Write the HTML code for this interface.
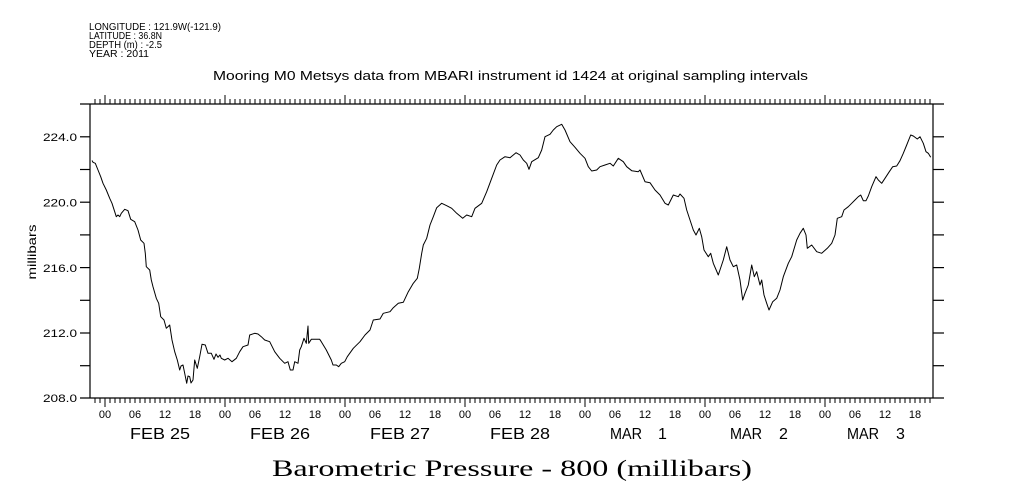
<!DOCTYPE html>
<html>
<head>
<meta charset="utf-8">
<style>
  html, body { margin: 0; padding: 0; background: #fff; }
  svg { display: block; }
  text { font-family: "Liberation Sans", sans-serif; fill: #000; }
</style>
</head>
<body>
<svg width="1009" height="504" viewBox="0 0 1009 504" xmlns="http://www.w3.org/2000/svg">
  <rect width="1009" height="504" fill="#fff"/>

  <!-- header info -->
  <text x="89" y="30" font-size="10" textLength="132" lengthAdjust="spacingAndGlyphs">LONGITUDE : 121.9W(-121.9)</text>
  <text x="89" y="39" font-size="10" textLength="73" lengthAdjust="spacingAndGlyphs">LATITUDE : 36.8N</text>
  <text x="89" y="48" font-size="10" textLength="73" lengthAdjust="spacingAndGlyphs">DEPTH (m) : -2.5</text>
  <text x="89" y="57" font-size="10" textLength="60" lengthAdjust="spacingAndGlyphs">YEAR : 2011</text>

  <!-- title -->
  <text x="213" y="80" font-size="13" textLength="595" lengthAdjust="spacingAndGlyphs">Mooring M0 Metsys data from MBARI instrument id 1424 at original sampling intervals</text>

  <!-- frame -->
  <g stroke="#000" stroke-width="1.2" fill="none">
    <line x1="90" y1="104" x2="90" y2="398"/>
    <line x1="933" y1="104" x2="933" y2="398"/>
    <line x1="80" y1="104" x2="944" y2="104"/>
    <line x1="80" y1="398" x2="944" y2="398"/>
  </g>

  <!-- y ticks (every 2 mb) -->
  <g stroke="#000" stroke-width="1.2">
    <line x1="80" y1="136.8" x2="90" y2="136.8"/>
    <line x1="80" y1="169.5" x2="90" y2="169.5"/>
    <line x1="80" y1="202.2" x2="90" y2="202.2"/>
    <line x1="80" y1="234.9" x2="90" y2="234.9"/>
    <line x1="80" y1="267.6" x2="90" y2="267.6"/>
    <line x1="80" y1="300.3" x2="90" y2="300.3"/>
    <line x1="80" y1="333" x2="90" y2="333"/>
    <line x1="80" y1="365.7" x2="90" y2="365.7"/>
    <line x1="933" y1="136.8" x2="944" y2="136.8"/>
    <line x1="933" y1="169.5" x2="944" y2="169.5"/>
    <line x1="933" y1="202.2" x2="944" y2="202.2"/>
    <line x1="933" y1="234.9" x2="944" y2="234.9"/>
    <line x1="933" y1="267.6" x2="944" y2="267.6"/>
    <line x1="933" y1="300.3" x2="944" y2="300.3"/>
    <line x1="933" y1="333" x2="944" y2="333"/>
    <line x1="933" y1="365.7" x2="944" y2="365.7"/>
  </g>

  <!-- y labels -->
  <g font-size="11" text-anchor="end">
    <text x="77" y="141" textLength="34" lengthAdjust="spacingAndGlyphs">224.0</text>
    <text x="77" y="206.4" textLength="34" lengthAdjust="spacingAndGlyphs">220.0</text>
    <text x="77" y="271.8" textLength="34" lengthAdjust="spacingAndGlyphs">216.0</text>
    <text x="77" y="337.2" textLength="34" lengthAdjust="spacingAndGlyphs">212.0</text>
    <text x="77" y="402.2" textLength="34" lengthAdjust="spacingAndGlyphs">208.0</text>
  </g>
  <text transform="translate(36,252) rotate(-90)" font-size="12" text-anchor="middle" textLength="55" lengthAdjust="spacingAndGlyphs">millibars</text>

  <!-- x ticks: hourly minor (5px), daily major at 00 -->
  <path stroke="#000" stroke-width="1" fill="none" d="
M95,104v-5 M100,104v-5 M110,104v-5 M115,104v-5 M120,104v-5 M125,104v-5 M130,104v-5 M135,104v-5 M140,104v-5 M145,104v-5 M150,104v-5 M155,104v-5 M160,104v-5 M165,104v-5 M170,104v-5 M175,104v-5 M180,104v-5 M185,104v-5 M190,104v-5 M195,104v-5 M200,104v-5 M205,104v-5 M210,104v-5 M215,104v-5 M220,104v-5
M230,104v-5 M235,104v-5 M240,104v-5 M245,104v-5 M250,104v-5 M255,104v-5 M260,104v-5 M265,104v-5 M270,104v-5 M275,104v-5 M280,104v-5 M285,104v-5 M290,104v-5 M295,104v-5 M300,104v-5 M305,104v-5 M310,104v-5 M315,104v-5 M320,104v-5 M325,104v-5 M330,104v-5 M335,104v-5 M340,104v-5
M350,104v-5 M355,104v-5 M360,104v-5 M365,104v-5 M370,104v-5 M375,104v-5 M380,104v-5 M385,104v-5 M390,104v-5 M395,104v-5 M400,104v-5 M405,104v-5 M410,104v-5 M415,104v-5 M420,104v-5 M425,104v-5 M430,104v-5 M435,104v-5 M440,104v-5 M445,104v-5 M450,104v-5 M455,104v-5 M460,104v-5
M470,104v-5 M475,104v-5 M480,104v-5 M485,104v-5 M490,104v-5 M495,104v-5 M500,104v-5 M505,104v-5 M510,104v-5 M515,104v-5 M520,104v-5 M525,104v-5 M530,104v-5 M535,104v-5 M540,104v-5 M545,104v-5 M550,104v-5 M555,104v-5 M560,104v-5 M565,104v-5 M570,104v-5 M575,104v-5 M580,104v-5
M590,104v-5 M595,104v-5 M600,104v-5 M605,104v-5 M610,104v-5 M615,104v-5 M620,104v-5 M625,104v-5 M630,104v-5 M635,104v-5 M640,104v-5 M645,104v-5 M650,104v-5 M655,104v-5 M660,104v-5 M665,104v-5 M670,104v-5 M675,104v-5 M680,104v-5 M685,104v-5 M690,104v-5 M695,104v-5 M700,104v-5
M710,104v-5 M715,104v-5 M720,104v-5 M725,104v-5 M730,104v-5 M735,104v-5 M740,104v-5 M745,104v-5 M750,104v-5 M755,104v-5 M760,104v-5 M765,104v-5 M770,104v-5 M775,104v-5 M780,104v-5 M785,104v-5 M790,104v-5 M795,104v-5 M800,104v-5 M805,104v-5 M810,104v-5 M815,104v-5 M820,104v-5
M830,104v-5 M835,104v-5 M840,104v-5 M845,104v-5 M850,104v-5 M855,104v-5 M860,104v-5 M865,104v-5 M870,104v-5 M875,104v-5 M880,104v-5 M885,104v-5 M890,104v-5 M895,104v-5 M900,104v-5 M905,104v-5 M910,104v-5 M915,104v-5 M920,104v-5 M925,104v-5 M930,104v-5
M105,104v-9 M225,104v-9 M345,104v-9 M465,104v-9 M585,104v-9 M705,104v-9 M825,104v-9
M95,398v5 M100,398v5 M110,398v5 M115,398v5 M120,398v5 M125,398v5 M130,398v5 M135,398v5 M140,398v5 M145,398v5 M150,398v5 M155,398v5 M160,398v5 M165,398v5 M170,398v5 M175,398v5 M180,398v5 M185,398v5 M190,398v5 M195,398v5 M200,398v5 M205,398v5 M210,398v5 M215,398v5 M220,398v5
M230,398v5 M235,398v5 M240,398v5 M245,398v5 M250,398v5 M255,398v5 M260,398v5 M265,398v5 M270,398v5 M275,398v5 M280,398v5 M285,398v5 M290,398v5 M295,398v5 M300,398v5 M305,398v5 M310,398v5 M315,398v5 M320,398v5 M325,398v5 M330,398v5 M335,398v5 M340,398v5
M350,398v5 M355,398v5 M360,398v5 M365,398v5 M370,398v5 M375,398v5 M380,398v5 M385,398v5 M390,398v5 M395,398v5 M400,398v5 M405,398v5 M410,398v5 M415,398v5 M420,398v5 M425,398v5 M430,398v5 M435,398v5 M440,398v5 M445,398v5 M450,398v5 M455,398v5 M460,398v5
M470,398v5 M475,398v5 M480,398v5 M485,398v5 M490,398v5 M495,398v5 M500,398v5 M505,398v5 M510,398v5 M515,398v5 M520,398v5 M525,398v5 M530,398v5 M535,398v5 M540,398v5 M545,398v5 M550,398v5 M555,398v5 M560,398v5 M565,398v5 M570,398v5 M575,398v5 M580,398v5
M590,398v5 M595,398v5 M600,398v5 M605,398v5 M610,398v5 M615,398v5 M620,398v5 M625,398v5 M630,398v5 M635,398v5 M640,398v5 M645,398v5 M650,398v5 M655,398v5 M660,398v5 M665,398v5 M670,398v5 M675,398v5 M680,398v5 M685,398v5 M690,398v5 M695,398v5 M700,398v5
M710,398v5 M715,398v5 M720,398v5 M725,398v5 M730,398v5 M735,398v5 M740,398v5 M745,398v5 M750,398v5 M755,398v5 M760,398v5 M765,398v5 M770,398v5 M775,398v5 M780,398v5 M785,398v5 M790,398v5 M795,398v5 M800,398v5 M805,398v5 M810,398v5 M815,398v5 M820,398v5
M830,398v5 M835,398v5 M840,398v5 M845,398v5 M850,398v5 M855,398v5 M860,398v5 M865,398v5 M870,398v5 M875,398v5 M880,398v5 M885,398v5 M890,398v5 M895,398v5 M900,398v5 M905,398v5 M910,398v5 M915,398v5 M920,398v5 M925,398v5 M930,398v5
M105,398v9 M225,398v9 M345,398v9 M465,398v9 M585,398v9 M705,398v9 M825,398v9
"/>

  <!-- hour labels -->
  <g font-size="11" text-anchor="middle">
    <text x="105" y="418">00</text><text x="135" y="418">06</text><text x="165" y="418">12</text><text x="195" y="418">18</text>
    <text x="225" y="418">00</text><text x="255" y="418">06</text><text x="285" y="418">12</text><text x="315" y="418">18</text>
    <text x="345" y="418">00</text><text x="375" y="418">06</text><text x="405" y="418">12</text><text x="435" y="418">18</text>
    <text x="465" y="418">00</text><text x="495" y="418">06</text><text x="525" y="418">12</text><text x="555" y="418">18</text>
    <text x="585" y="418">00</text><text x="615" y="418">06</text><text x="645" y="418">12</text><text x="675" y="418">18</text>
    <text x="705" y="418">00</text><text x="735" y="418">06</text><text x="765" y="418">12</text><text x="795" y="418">18</text>
    <text x="825" y="418">00</text><text x="855" y="418">06</text><text x="885" y="418">12</text><text x="915" y="418">18</text>
  </g>

  <!-- date labels -->
  <g font-size="16">
    <text x="130" y="439" textLength="60" lengthAdjust="spacingAndGlyphs">FEB 25</text>
    <text x="250" y="439" textLength="60" lengthAdjust="spacingAndGlyphs">FEB 26</text>
    <text x="370" y="439" textLength="60" lengthAdjust="spacingAndGlyphs">FEB 27</text>
    <text x="490" y="439" textLength="60" lengthAdjust="spacingAndGlyphs">FEB 28</text>
    <text x="610" y="439" textLength="32" lengthAdjust="spacingAndGlyphs">MAR</text>
    <text x="658" y="439">1</text>
    <text x="730" y="439" textLength="32" lengthAdjust="spacingAndGlyphs">MAR</text>
    <text x="779" y="439">2</text>
    <text x="847" y="439" textLength="32" lengthAdjust="spacingAndGlyphs">MAR</text>
    <text x="896" y="439">3</text>
  </g>

  <!-- bottom title -->
  <text x="272" y="476" font-size="23" style="font-family:'Liberation Serif', serif" textLength="480" lengthAdjust="spacingAndGlyphs">Barometric Pressure - 800 (millibars)</text>

  <!-- data curve -->
  <polyline fill="none" stroke="#000" stroke-width="1" stroke-linejoin="round" points="
92,160.5 93,162.3 95.3,163.3 98,170 100.7,176.7 103,183.3 106.3,190 109.7,198.3 112,203.3 114.7,211.7 116.3,216.7 118,215 119.7,216.7 121.3,213.3 124.7,209.3 128,210.7 130.7,219.3 134.7,221.7 138,230 140.7,240 144,243.3 145.3,253.3 146.3,266.7 149.7,270 151.3,280 153,286.7 156.3,298.3 158.7,303.3 160.7,316.7 164,320 166.3,328.3 169.7,325 172,340 174.7,351.7 177.3,360 179.7,370 181,366 183,365 184.7,373.3 186.7,383.3 188,376 189.7,376.7 191,383 193,380 194.7,360 197.3,368.3 199.7,356.7 202,344.3 205.3,345 208,353.3 211.3,353.3 214,359.3 216,354 218,357.3 220,355 221.3,358.3 224.7,360 228,358.3 232,361.7 236.3,358.3 239.7,351.7 243,346.7 248,345 249.7,335 254.7,333.3 258,334 261.3,336.7 264.7,340 269.7,341.7 274.7,351.7 279.7,358.3 284.7,363.3 288,361.7 290.3,370 293,370 294.7,361.7 298,363.3 299.7,350 301.3,346.7 304,338.3 306.3,343.3 308,326 308.7,343.3 311.3,339.3 319.7,339.3 321.3,341.7 326.3,350 331.3,360 333,365 336.3,365 338.7,366.7 341.3,363.3 344.7,361.7 347.3,356.7 353.3,348.3 360,341.7 365,335 370,330 373.3,320 380,319 383.3,313.3 390,311.7 393.3,307.7 398.3,303.3 403.3,302.3 408.3,291.7 413.3,283.3 417.3,278.3 419.3,268.3 421.7,253.3 423.3,245 426.7,238.3 430,225 433.3,216.7 436.7,207.7 441.7,203.3 446.7,205.7 451.7,208.3 456.7,213.3 462.7,218.3 466.7,215 471.7,216.7 475,208.3 481.7,203.3 486.7,191.7 491.7,178.3 496.7,165 500,160 505,156.7 510,157.7 516,152.7 520,155 523.3,160 526.7,163.3 529,169.3 531.7,161.7 538.3,157.7 541.7,150 545,136.7 550,134.3 553.3,130 556.7,126.7 561.7,124.3 565,130 570,141.7 575,147.3 580,153.3 585,158.3 588.3,166.7 591.7,171 596.7,170 600,166.7 605,165 610,163.3 613.3,166 618.3,158.3 623.3,161.7 626.7,166.7 631.7,170.7 638.3,171.7 640,170 645,181.7 650,182.7 655,190 660,195 665,203.3 668.3,205 673.3,195 678.3,196.7 680,194 684,198.3 686.7,210 690,220 693.3,230 696,235 699.3,228.3 701.7,236.7 704,250 708.3,256.7 710.7,253.3 713.3,263.3 718.3,275 723.3,260 726.7,246.7 730,260 733.3,266.7 736.7,265 740,280 742.7,300 745,293.3 748.3,285 751.7,265 754.3,276.7 756.7,271.7 760,285 761.7,280 764,295 766.7,303.3 769,310 772.7,301.7 776.7,298.3 780,290 783.3,276.7 788.3,263.3 791.7,256.7 796.7,240 800,233.3 803.3,228.3 806,235 807.3,248.3 811.7,245 816.7,251.7 821.7,253.3 827.3,248.3 831.7,243.3 835,235 837.3,218.3 841.7,216.7 844,210 848.3,206.7 851.7,203.3 855,200 858.3,196.7 860.7,195 863.3,200.7 866,200.7 868.3,196 871.7,186.7 876,176.7 878.3,180 881.7,183.3 885,178.3 889.3,171.7 892.7,166.7 896.7,166 900,160.7 903.3,153.3 906.7,145 910.7,135 913.3,136 917.3,139 920,136.7 923.3,143.3 926,151.7 928.3,153.3 930.7,157.3"/>
</svg>
</body>
</html>
